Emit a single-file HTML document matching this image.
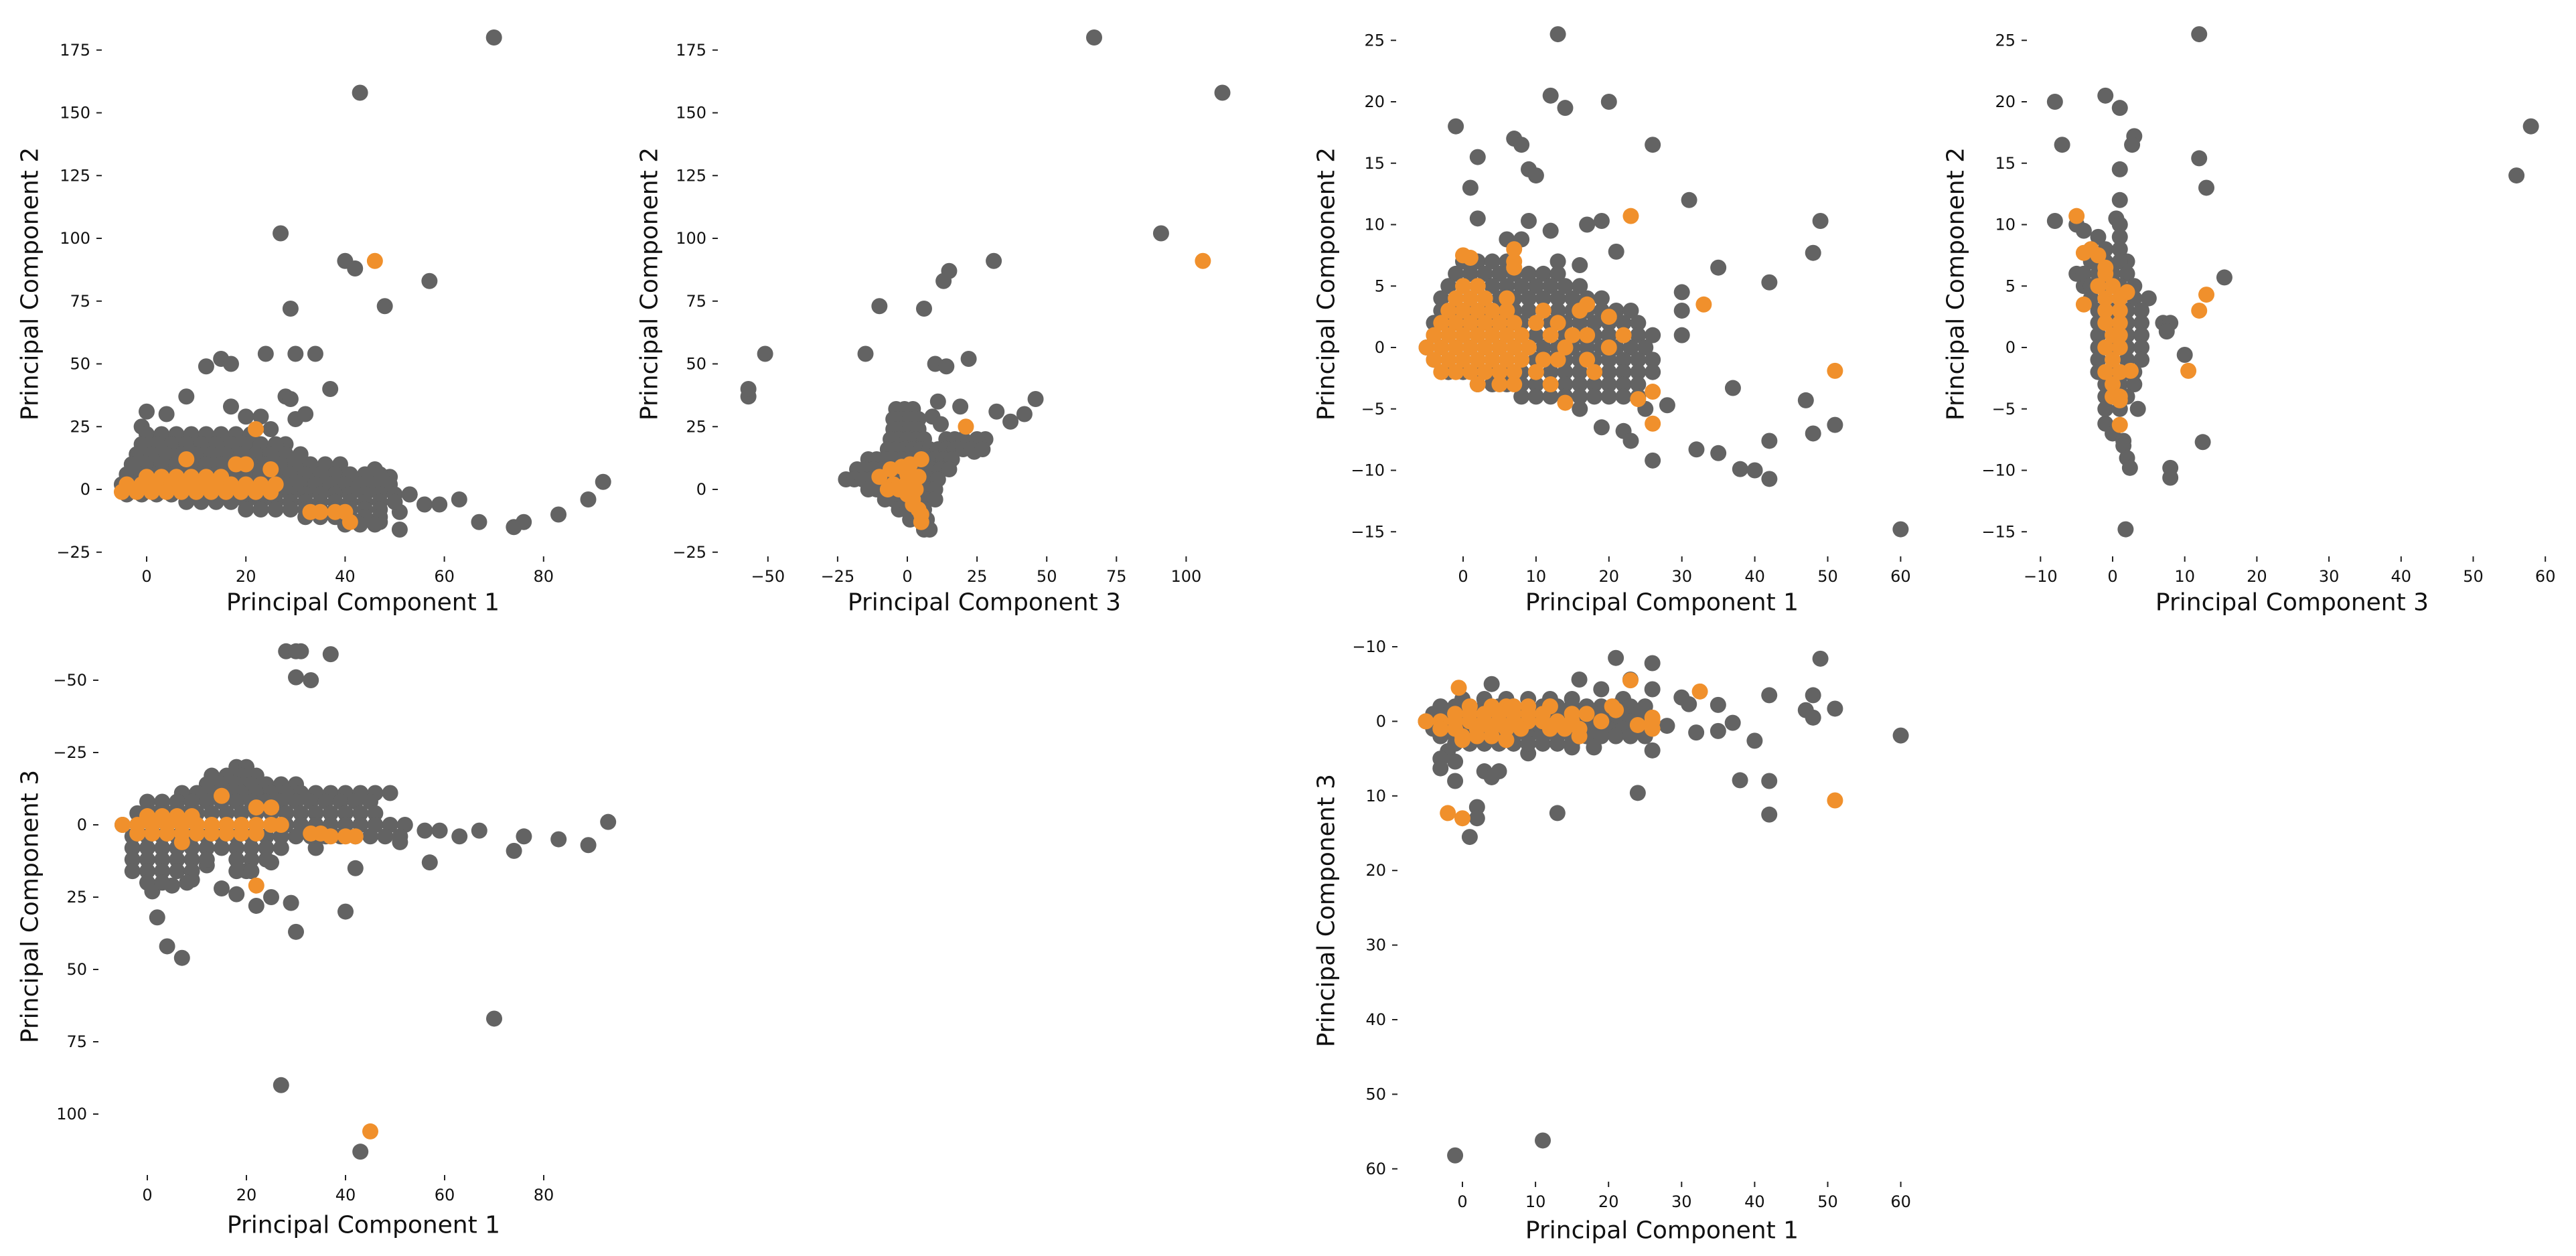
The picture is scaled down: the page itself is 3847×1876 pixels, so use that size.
<!DOCTYPE html>
<html><head><meta charset="utf-8"><style>
html,body{margin:0;padding:0;background:#fff;}
svg{display:block;font-family:"DejaVu Sans","Liberation Sans",sans-serif;}
</style></head><body>
<svg id="fig" width="3847" height="1876" viewBox="0 0 3847 1876" xmlns="http://www.w3.org/2000/svg"></svg>
<script>
// ---------- DATA ----------
// Panel 1: PC1 (x) vs PC2 (y)
const p1GrayPts = [[70,180],[43,158],[27,102],[40,91],[42,88],[57,83],[48,73],[29,72],[12,49],[15,52],[17,50],[24,54],[30,54],[34,54],[37,40],[28,37],[29,36],[30,28],[32,30],[0,31],[4,30],[-1,25],[8,37],[17,33],[20,29],[25,24],[23,29],[28,18],[46,8],[49,5],[53,-2],[51,-9],[47,-13],[51,-16],[56,-6],[59,-6],[63,-4],[67,-13],[74,-15],[76,-13],[83,-10],[89,-4],[92,3]];
const p1GrayRows = [[22,[0,3,6,9,12,15,18,21]],[18,[-1,2,5,8,11,14,17,20,23,26]],[14,[-2,1,4,7,10,13,16,19,22,25,28,31]],[10,[-3,0,3,6,9,12,15,18,21,24,27,30,33,36,39]],[6,[-4,-1,2,5,8,11,14,17,20,23,26,29,32,35,38,41,44,47]],[2,[-5,-2,1,4,7,10,13,16,19,22,25,28,31,34,37,40,43,46,49]],[-2,[-4,-1,2,5,8,11,14,17,20,23,26,29,32,35,38,41,44,47,50,53]],[-5,[8,11,14,17,20,23,26,29,32,35,38,41,44,47,50]],[-8,[20,23,26,29,32,35,38,41,44,47]],[-11,[32,35,38,41,44,47]],[-14,[40,43,46]]];
const p1OrangePts = [[8,12],[18,10],[20,10],[25,8],[22,24],[33,-9],[35,-9],[38,-9],[40,-9],[41,-13],[46,91]];
const p1OrangeRows = [[5,[0,3,6,9,12,15]],[2,[-4,-1,2,5,8,11,14,17,20,23,26]],[-1,[-5,-2,1,4,7,10,13,16,19,22,25]]];
// Panel 2: PC3 (x) vs PC2 (y)
const p2GrayPts = [[67,180],[113,158],[91,102],[31,91],[15,87],[13,83],[-10,73],[6,72],[-51,54],[-15,54],[10,50],[14,49],[22,52],[-57,37],[-57,40],[46,36],[42,30],[37,27],[32,31],[19,33],[11,35],[9,29],[12,26],[24,15],[28,20]];
const p2GrayRows = [[32,[-4,-1,2]],[28,[-5,-2,1,4]],[24,[-5,-2,1,4]],[20,[-6,-3,0,3,6,14,17,20,25]],[16,[-7,-4,-1,2,5,8,11,14,17,20,23,27]],[12,[-14,-11,-8,-5,-2,1,4,7,10,13,16]],[8,[-18,-15,-12,-9,-6,-3,0,3,6,9,12,15]],[4,[-22,-19,-16,-13,-10,-7,-4,-1,2,5,8,11]],[0,[-14,-11,-8,-5,-2,1,4,7,10]],[-4,[-8,-5,-2,1,4,7,10]],[-8,[-3,0,3,6]],[-12,[1,4,7]],[-16,[6,8]]];
const p2OrangePts = [[106,91],[21,25],[5,12],[-10,5],[-6,8],[-5,2],[-2,9],[0,6],[0,3],[-3,0],[0,-2],[2,-4],[3,0],[4,-8],[5,-10],[5,-13],[4,5],[-7,0],[1,10],[2,-6]];
const p2OrangeRows = [];
// Panel 3: PC1 (x) vs PC2 (y), subset
const p3GrayPts = [[13,25.5],[12,20.5],[14,19.5],[20,20],[-1,18],[7,17],[8,16.5],[26,16.5],[2,15.5],[9,14.5],[10,14],[1,13],[2,10.5],[31,12],[49,10.3],[48,7.7],[35,6.5],[42,5.3],[30,4.5],[30,3],[30,1],[37,-3.3],[47,-4.3],[51,-6.3],[48,-7],[19,-6.5],[22,-6.8],[23,-7.6],[26,-9.2],[32,-8.3],[35,-8.6],[38,-9.9],[40,-10],[42,-7.6],[42,-10.7],[60,-14.8],[28,-4.7],[25,-5],[16,-5],[9,10.3],[12,9.5],[17,10],[19,10.3],[6,8.8],[8,8.8],[21,7.8],[13,7],[16,6.7]];
const p3GrayRows = [[7,[0,2,4,6]],[6,[-1,1,3,5,7,9,11,13]],[5,[-2,0,2,4,6,8,10,12,14,16]],[4,[-3,-1,1,3,5,7,9,11,13,15,17,19]],[3,[-3,-1,1,3,5,7,9,11,13,15,17,19,21,23]],[2,[-4,-2,0,2,4,6,8,10,12,14,16,18,20,22,24]],[1,[-4,-2,0,2,4,6,8,10,12,14,16,18,20,22,24,26]],[0,[-5,-3,-1,1,3,5,7,9,11,13,15,17,19,21,23,25]],[-1,[-4,-2,0,2,4,6,8,10,12,14,16,18,20,22,24,26]],[-2,[-2,0,2,4,6,8,10,12,14,16,18,20,22,24,26]],[-3,[2,4,6,8,10,12,14,16,18,20,22,24]],[-4,[8,10,12,14,16,18,20,22,24]]];
const p3OrangePts = [[23,10.7],[0,7.5],[1,7.3],[7,8],[7,7],[7,6.5],[33,3.5],[51,-1.9],[26,-3.6],[24,-4.2],[26,-6.2],[14,-4.5],[22,1],[17,3.5],[20,2.5]];
const p3OrangeRows = [[5,[0,2]],[4,[-1,1,3,6]],[3,[-2,0,2,4,6,11,16]],[2,[-3,-1,1,3,5,7,10,13]],[1,[-4,-2,0,2,4,6,8,12,15,17]],[0,[-5,-3,-1,1,3,5,7,9,14,20]],[-1,[-4,-2,0,2,4,6,8,11,13,17]],[-2,[-3,-1,1,3,5,7,10,18]],[-3,[2,5,7,12]]];
// Panel 4: PC3 (x) vs PC2 (y), subset
const p4GrayPts = [[12,25.5],[-8,20],[-1,20.5],[1,19.5],[-7,16.5],[3,17.2],[2.7,16.5],[12,15.4],[1,14.5],[13,13],[58,18],[56,14],[1,12],[0.5,10.5],[1,10],[-8,10.3],[-5,10],[-4,9.5],[1,9],[-2,9],[2,7],[15.5,5.7],[5,4],[7,2],[8,2],[7.5,1.3],[10,-0.6],[12.5,-7.7],[3.5,-5],[-1,-6.2],[0,-7],[1.5,-7.6],[1.5,-8],[2,-9],[2.4,-9.8],[8,-9.8],[8,-10.6],[1.8,-14.8],[-5,6],[-4,5]];
const p4GrayRows = [[8,[-3,-1,1]],[7,[-3,-1,1]],[6,[-4,-2,0,2]],[5,[-3,-1,1,3]],[4,[-3,-1,1,3]],[3,[-2,0,2,4]],[2,[-2,0,2,4]],[1,[-2,0,2,4]],[0,[-2,0,2,4]],[-1,[-2,0,2,4]],[-2,[-2,0,2,3]],[-3,[-1,1,3]],[-4,[-1,1,2]],[-5,[-1,1]]];
const p4OrangePts = [[-5,10.7],[-4,7.7],[-3,8],[-2,7.5],[-1,6.5],[-4,3.5],[2,4.5],[13,4.3],[12,3],[10.5,-1.9],[2.5,-1.9],[1,-6.3],[1,-4.3]];
const p4OrangeRows = [[6,[-1]],[5,[-2,0]],[4,[-1,1]],[3,[-1,1]],[2,[-1,1]],[1,[0,1]],[0,[-1,1]],[-1,[0]],[-2,[-1,1]],[-3,[0]],[-4,[0,1]]];
// Panel 5: PC1 (x) vs PC3 (y, inverted)
const p5GrayPts = [[28,-60],[30,-60],[31,-60],[37,-59],[30,-51],[33,-50],[1,23],[2,32],[4,42],[7,46],[15,22],[18,24],[22,28],[25,25],[29,27],[30,37],[40,30],[42,15],[57,13],[70,67],[27,90],[43,113],[93,-1],[74,9],[76,4],[83,5],[89,7],[63,4],[67,2],[56,2],[59,2],[51,6],[34,8],[12,14],[9,19],[5,21],[20,16],[25,13]];
const p5GrayRows = [[-20,[18,20]],[-17,[13,16,19,22]],[-14,[12,15,18,21,24,27,30]],[-11,[7,10,13,16,19,22,25,28,31,34,37,40,43,46,49]],[-8,[0,3,6,9,12,15,18,21,24,27,30,33,36,39,42,45]],[-4,[-2,1,4,7,10,13,16,19,22,25,28,31,34,37,40,43,46]],[0,[-5,-2,1,4,7,10,13,16,19,22,25,28,31,34,37,40,43,46,49,52]],[4,[-3,0,3,6,9,12,15,18,21,24,27,30,33,36,39,42,45,48,51]],[8,[-3,0,3,6,9,12,15,18,21,24,27]],[12,[-3,0,3,6,9,12,18,21,24]],[16,[-3,0,3,6,9,18,21]],[20,[0,3,8]]];
const p5OrangePts = [[15,-10],[22,-6],[25,-6],[45,106],[22,21],[7,6],[4,3],[33,3],[35,3],[37,4],[40,4],[42,4]];
const p5OrangeRows = [[-3,[0,3,6,9]],[0,[-5,-2,1,4,7,10,13,16,19,22,25,27]],[3,[-2,1,4,7,10,13,16,19,22]]];
// Panel 6: PC1 (x) vs PC3 (y, inverted), subset
const p6GrayPts = [[21,-8.5],[26,-7.8],[49,-8.4],[4,-5],[16,-5.6],[19,-4.3],[23,-5.6],[26,-4.3],[42,-3.5],[48,-3.5],[30,-3.2],[31,-2.3],[35,-2.2],[47,-1.5],[48,-0.5],[51,-1.7],[37,0.2],[28,0.6],[32,1.5],[35,1.3],[40,2.6],[60,1.9],[-2,4],[-3,5],[-3,6.3],[-1,5.4],[3,6.7],[4,7.5],[5,6.7],[-1,8],[38,7.9],[42,8],[24,9.6],[2,11.5],[2,13],[1,15.5],[13,12.3],[42,12.5],[-1,58.2],[11,56.2],[15,3.5],[18,3.5],[26,3.9],[9,4.3]];
const p6GrayRows = [[-3,[0,3,6,9,12,15,22]],[-2,[-3,-1,1,3,5,7,9,11,13,15,17,19,21,23,25]],[-1,[-4,-2,0,2,4,6,8,10,12,14,16,18,20,22,24]],[0,[-5,-3,-1,1,3,5,7,9,11,13,15,17,19,21,23,25]],[1,[-4,-2,0,2,4,6,8,10,12,14,16,18,20,22,24]],[2,[-3,-1,1,3,5,7,9,11,13,15,17,19,21,23,25]],[3,[-1,1,3,5,7,9,11,13,15]]];
const p6OrangePts = [[-0.5,-4.5],[23,-5.5],[32.5,-4],[20.5,-2],[21,-1.5],[24,0.5],[26,0],[26,-0.5],[26,1],[-2,12.3],[0,13],[6,2.5],[0,2.5],[51,10.6]];
const p6OrangeRows = [[-2,[1,4,6,7,9,12]],[-1,[-1,1,3,5,7,9,11,15,17]],[0,[-5,-3,-1,1,3,5,7,9,11,13,15,19]],[1,[-3,-1,2,4,6,8,12,14,16]],[2,[0,2,4,16]]];
// Tick values
const ticksPC2Big = [-25,0,25,50,75,100,125,150,175];
const ticksPC1Big = [0,20,40,60,80];
const ticksPC3Big = [-50,-25,0,25,50,75,100];
const ticksPC2Small = [-15,-10,-5,0,5,10,15,20,25];
const ticksPC1Small = [0,10,20,30,40,50,60];
const ticksPC3Small = [-10,0,10,20,30,40,50,60];
const ticksPC3Inv = [-50,-25,0,25,50,75,100];
const ticksPC3InvSmall = [-10,0,10,20,30,40,50,60];

// ---------- RENDER ----------
const NS = 'http://www.w3.org/2000/svg';
const svg = document.getElementById('fig');
const GRAY = '#636363', ORANGE = '#f0902c', R = 12;
function mk(tag, attrs, parent){const e=document.createElementNS(NS,tag);for(const k in attrs)e.setAttribute(k,attrs[k]);parent.appendChild(e);return e;}
function fmt(v){return v<0?'\u2212'+Math.abs(v):String(v);}
function expand(pts, rows){const out=pts.slice();rows.forEach(r=>r[1].forEach(x=>out.push([x,r[0]])));return out;}

const panels = [
 {id:'pc1-vs-pc2', x0:219, xs:7.41, y0:731, ys:-3.75, axL:155, axB:828, xt:ticksPC1Big, yt:ticksPC2Big, xl:'Principal Component 1', yl:'Principal Component 2', xlx:542, xly:900, ylx:45, yly:424, gray:expand(p1GrayPts,p1GrayRows), orange:expand(p1OrangePts,p1OrangeRows)},
 {id:'pc3-vs-pc2', x0:1355, xs:4.164, y0:731, ys:-3.75, axL:1075, axB:828, xt:ticksPC3Big, yt:ticksPC2Big, xl:'Principal Component 3', yl:'Principal Component 2', xlx:1470, xly:900, ylx:970, yly:424, gray:expand(p2GrayPts,p2GrayRows), orange:expand(p2OrangePts,p2OrangeRows)},
 {id:'pc1-vs-pc2-zoom', x0:2185, xs:10.89, y0:519, ys:-18.35, axL:2088, axB:828, xt:ticksPC1Small, yt:ticksPC2Small, xl:'Principal Component 1', yl:'Principal Component 2', xlx:2482, xly:900, ylx:1981, yly:424, gray:expand(p3GrayPts,p3GrayRows), orange:expand(p3OrangePts,p3OrangeRows)},
 {id:'pc3-vs-pc2-zoom', x0:3155, xs:10.77, y0:519, ys:-18.35, axL:3030, axB:828, xt:ticksPC3Small, yt:ticksPC2Small, xl:'Principal Component 3', yl:'Principal Component 2', xlx:3423, xly:900, ylx:2921, yly:424, gray:expand(p4GrayPts,p4GrayRows), orange:expand(p4OrangePts,p4OrangeRows)},
 {id:'pc1-vs-pc3', x0:220, xs:7.4, y0:1232, ys:4.32, axL:150, axB:1752, xt:ticksPC1Big, yt:ticksPC3Inv, xl:'Principal Component 1', yl:'Principal Component 3', xlx:543, xly:1830, ylx:45, yly:1354, gray:expand(p5GrayPts,p5GrayRows), orange:expand(p5OrangePts,p5OrangeRows)},
 {id:'pc1-vs-pc3-zoom', x0:2184, xs:10.91, y0:1077.4, ys:11.14, axL:2090, axB:1762, xt:ticksPC1Small, yt:ticksPC3InvSmall, xl:'Principal Component 1', yl:'Principal Component 3', xlx:2482, xly:1838, ylx:1981, yly:1360, gray:expand(p6GrayPts,p6GrayRows), orange:expand(p6OrangePts,p6OrangeRows)}
];

panels.forEach(p=>{
  const g = mk('g',{},svg);
  
  
  const X = v=>p.x0+v*p.xs, Y = v=>p.y0+v*p.ys;
  p.yt.forEach(v=>{
    const y=Y(v);
    const t=mk('line',{x1:p.axL-11,x2:p.axL-3,y1:y,y2:y,stroke:'#222','stroke-width':2},g);
    
    
    const l=mk('text',{x:p.axL-20,y:y,'text-anchor':'end','dominant-baseline':'central','font-size':24,fill:'#111'},g);
    l.textContent=fmt(v);
    
    
  });
  p.xt.forEach(v=>{
    const x=X(v);
    const t=mk('line',{x1:x,x2:x,y1:p.axB+3,y2:p.axB+11,stroke:'#222','stroke-width':2},g);
    
    
    const l=mk('text',{x:x,y:p.axB+33,'text-anchor':'middle','dominant-baseline':'central','font-size':24,fill:'#111'},g);
    l.textContent=fmt(v);
    
    
  });
  const xl=mk('text',{x:p.xlx,y:p.xly,'text-anchor':'middle','dominant-baseline':'central','font-size':36,fill:'#111'},g);
  xl.textContent=p.xl;
  
  
  const yl=mk('text',{x:p.ylx,y:p.yly,'text-anchor':'middle','dominant-baseline':'central','font-size':36,fill:'#111',transform:'rotate(-90 '+p.ylx+' '+p.yly+')'},g);
  yl.textContent=p.yl;
  
  
  p.gray.forEach(d=>{
    const c=mk('circle',{cx:X(d[0]),cy:Y(d[1]),r:R,fill:GRAY},g);
    
    
  });
  p.orange.forEach(d=>{
    const c=mk('circle',{cx:X(d[0]),cy:Y(d[1]),r:R,fill:ORANGE},g);
    
    
  });
});
</script>
</body></html>
